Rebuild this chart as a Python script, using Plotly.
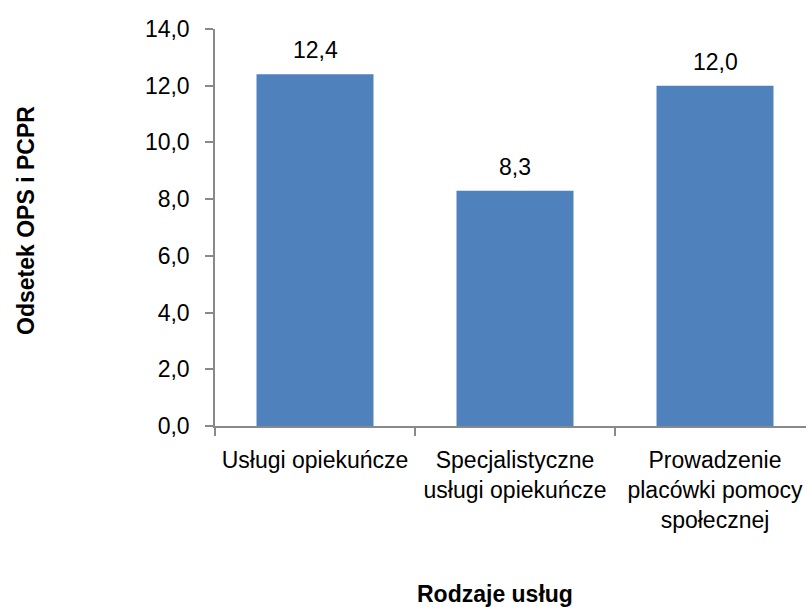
import plotly.graph_objects as go

categories = ["Usługi opiekuńcze", "Specjalistyczne<br>usługi opiekuńcze", "Prowadzenie<br>placówki pomocy<br>społecznej"]
values = [12.4, 8.3, 12.0]
y_ticks = [0, 2, 4, 6, 8, 10, 12, 14]
x_title = "Rodzaje usług"
y_title = "Odsetek OPS i PCPR"

W, H = 807, 607
L, R, T, B = 215, 1, 29, 181

FONT = "Liberation Sans, Arial, sans-serif"

fig = go.Figure(go.Bar(
    x=categories, y=values,
    marker=dict(color="#4F81BD", line=dict(width=0)),
    width=0.585,
    hoverinfo="x+y",
))

for c, v in zip(categories, values):
    fig.add_annotation(
        x=c, y=v, text=f"{v:.1f}".replace(".", ","),
        showarrow=False, yanchor="bottom", yshift=9,
        font=dict(family=FONT, size=23, color="#000000"),
    )

title_font = dict(family=FONT, size=23, color="#000000")
fig.add_annotation(
    xref="paper", yref="paper", x=0.474, y=-0.423,
    xanchor="center", yanchor="middle",
    text=f"<b>{x_title}</b>", showarrow=False, font=title_font,
)
fig.add_annotation(
    xref="paper", yref="paper", x=-0.3198, y=0.519,
    xanchor="center", yanchor="middle", textangle=-90,
    text=f"<b>{y_title}</b>", showarrow=False, font=title_font,
)

axis_font = dict(family=FONT, size=23, color="#000000")

fig.update_layout(
    width=W, height=H,
    margin=dict(l=L, r=R, t=T, b=B, pad=0),
    paper_bgcolor="white", plot_bgcolor="white",
    separators=",.",
    showlegend=False,
    xaxis=dict(
        type="category",
        range=[-0.5, 2.455],
        showline=True, linecolor="#898989", linewidth=1.5,
        ticks="outside", tickson="boundaries", ticklen=8, tickcolor="#898989", tickwidth=1.5,
        ticklabelstandoff=13,
        showgrid=False, zeroline=False,
        tickfont=axis_font,
    ),
    yaxis=dict(
        range=[0, 14],
        tickvals=y_ticks,
        tickformat=".1f",
        showline=True, linecolor="#898989", linewidth=1.5,
        ticks="outside", ticklen=8, tickcolor="#898989", tickwidth=1.5,
        ticklabelstandoff=11,
        showgrid=False, zeroline=False,
        tickfont=axis_font,
    ),
)

fig.write_html(
    "out.html",
    config={"displayModeBar": False},
    post_script="document.body.style.margin='0';document.body.style.overflow='hidden';",
)
